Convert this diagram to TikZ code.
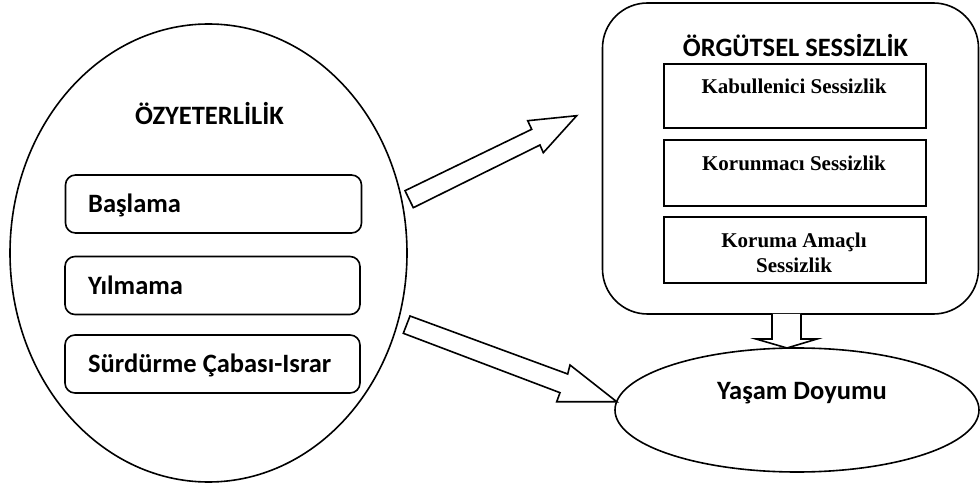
\documentclass[tikz,border=0pt]{standalone}
\usepackage{fontspec}
\setmainfont{Liberation Serif}
\newfontfamily\calfont{Carlito}
\usetikzlibrary{shapes.geometric}
\begin{document}
\begin{tikzpicture}[x=1pt,y=-1pt,
  line join=miter,
  shapeline/.style={draw=black, line width=1.6pt},
  innerbox/.style={draw=black, line width=2pt, minimum width=262pt, minimum height=66pt, inner sep=0pt},
  roundbox/.style={shapeline, rounded corners=10pt, minimum width=296pt, minimum height=58pt, inner sep=0pt},
  caltext/.style={font=\calfont\bfseries\fontsize{26.5}{31}\selectfont, inner sep=0pt},
  timestext/.style={font=\bfseries\fontsize{21}{25}\selectfont, inner sep=0pt, align=center},
  blockarrow/.style={draw=black, line width=1.6pt, fill=white}
]
\useasboundingbox (0,0) rectangle (980,486);

% left ellipse
\node[shapeline, ellipse, minimum width=397pt, minimum height=458pt, inner sep=0pt] (ozy) at (208.5,253) {};
\node[caltext, anchor=base] (ozyt) at (209.5,125) {ÖZYETERLİLİK};

\node[roundbox] (bas) at (213.5,204) {};
\node[caltext, anchor=base west] (bast) at (88,213) {Başlama};
\node[roundbox, minimum width=295pt] (yil) at (212.5,285.5) {};
\node[caltext, anchor=base west] (yilt) at (88,295) {Yılmama};
\node[roundbox, minimum width=295pt] (sur) at (212.5,364) {};
\node[caltext, anchor=base west] (surt) at (88,372) {Sürdürme Çabası-Israr};

% right rounded box
\node[shapeline, rounded corners=45pt, minimum width=376pt, minimum height=311pt, inner sep=0pt] (org) at (790.5,158.5) {};
\node[caltext, anchor=base] (orgt) at (795.5,57) {ÖRGÜTSEL SESSİZLİK};

\node[innerbox, minimum height=64pt] (kab) at (795,96) {};
\node[timestext, anchor=base] (kabt) at (794,94) {Kabullenici Sessizlik};
\node[innerbox] (kor) at (795,173) {};
\node[timestext, anchor=base] (kort) at (794,171) {Korunmacı Sessizlik};
\node[innerbox] (kam) at (795,250) {};
\node[timestext, anchor=base] (kamt1) at (794,248) {Koruma Amaçlı};
\node[timestext, anchor=base] (kamt2) at (794,273) {Sessizlik};

% bottom right ellipse
\node[shapeline, ellipse, minimum width=364pt, minimum height=124pt, inner sep=0pt] (yas) at (797,410) {};
\node[caltext, anchor=base] (yast) at (802,399) {Yaşam Doyumu};

% block arrows
\draw[blockarrow] (405,190.7) -- (531.7,129.3) -- (527.7,120.7) -- (576.7,115.7)
  -- (543.3,152.7) -- (540,145) -- (413.3,207.7) -- cycle;
\draw[blockarrow] (410,316) -- (567.7,374) -- (570,365) -- (616.7,401.7)
  -- (556.7,401.7) -- (560,392.7) -- (403.3,333.3) -- cycle;
\draw[blockarrow] (772,314) -- (772,339) -- (756,339) -- (787,348)
  -- (817,339) -- (801,339) -- (801,314);
\end{tikzpicture}
\end{document}
